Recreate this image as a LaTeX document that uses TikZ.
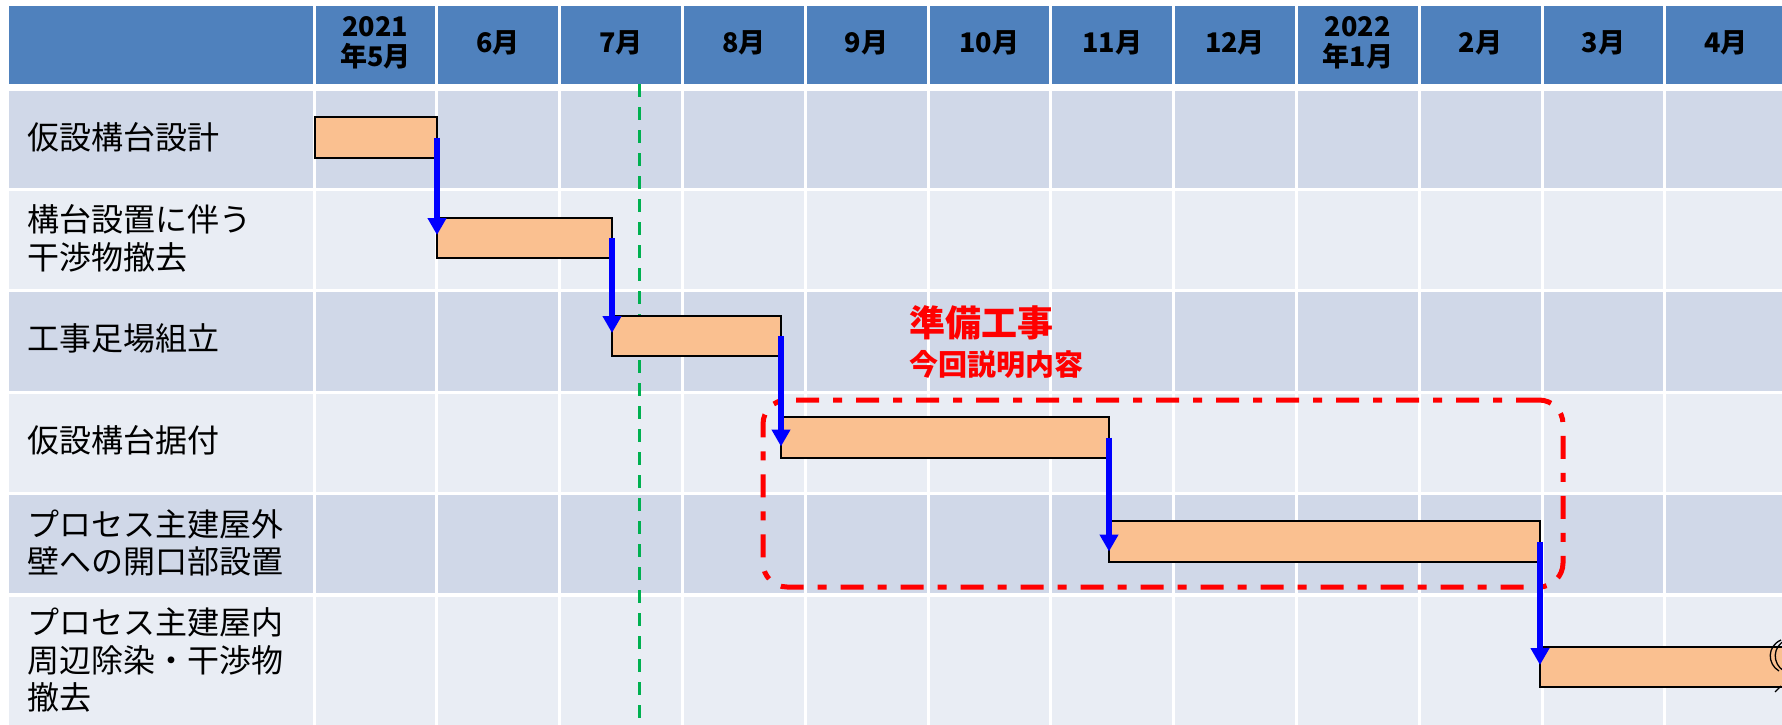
\documentclass[tikz,border=0pt]{standalone}
\usepackage{fontspec}
\setmainfont{Noto Sans CJK JP}
\usetikzlibrary{arrows.meta}
\definecolor{hdr}{HTML}{4F81BD}
\definecolor{banda}{HTML}{D0D8E8}
\definecolor{bandb}{HTML}{E9EDF4}
\definecolor{barfill}{HTML}{FAC090}
\definecolor{grn}{HTML}{00B050}
\tikzset{
  hdrtext/.style={font=\fontsize{27}{30.5}\selectfont\bfseries, align=center, text=black, inner sep=0pt},
  rowlabel/.style={font=\fontsize{32}{37.5}\selectfont, align=left, anchor=west, inner sep=0pt, text=black},
  taskbar/.style={draw=black, line width=1.6pt, fill=barfill, inner sep=0pt, outer sep=0pt, anchor=north west},
  link/.style={draw=blue, line width=5.5pt, -{Triangle[length=17pt,width=18pt]}},
  todayline/.style={draw=grn, line width=3pt, dash pattern=on 13pt off 10pt},
  scopebox/.style={draw=red, line width=5pt, rounded corners=24pt, dash pattern=on 23pt off 14pt on 9pt off 14pt, inner sep=0pt},
  redtitle/.style={text=red, font=\fontsize{36}{40}\selectfont\bfseries, anchor=west, inner sep=0pt},
  redsub/.style={text=red, font=\fontsize{29}{32}\selectfont\bfseries, anchor=west, inner sep=0pt}
}
\begin{document}
\begin{tikzpicture}[x=1pt,y=-1pt]
\useasboundingbox (0,0) rectangle (1782,725);
\clip (0,0) rectangle (1782,725);
\fill[white] (0,0) rectangle (1782,725);
% table bands
\fill[hdr]   (9,6)   rectangle (1782,84);
\fill[banda] (9,91)  rectangle (1782,188);
\fill[bandb] (9,191) rectangle (1782,289);
\fill[banda] (9,292) rectangle (1782,391);
\fill[bandb] (9,394) rectangle (1782,492);
\fill[banda] (9,495) rectangle (1782,593);
\fill[bandb] (9,597) rectangle (1782,725);
\foreach \k in {0,...,11}
  \fill[white] ({314+122.8*\k-1.5},0) rectangle ({314+122.8*\k+1.5},725);
% header texts
\foreach \t [count=\i from 0] in {{2021\\年5月},6月,7月,8月,9月,10月,11月,12月,{2022\\年1月},2月,3月,4月}
  \node[hdrtext] (h\i) at ({314+122.8*(\i+0.5)},43) {\t};
% row labels
\node[rowlabel] (r1) at (27,137) {仮設構台設計};
\node[rowlabel] (r2) at (27,238.5) {構台設置に伴う\\干渉物撤去};
\node[rowlabel] (r3) at (27,338) {工事足場組立};
\node[rowlabel] (r4) at (27,440) {仮設構台据付};
\node[rowlabel] (r5) at (27,543) {プロセス主建屋外\\壁への開口部設置};
\node[rowlabel] (r6) at (27,660) {プロセス主建屋内\\周辺除染・干渉物\\撤去};
% today line
\draw[todayline] (639,84) -- (639,725);
% red scope box and label
\node[scopebox, minimum width=800pt, minimum height=187pt] (scope) at (1163,493.5) {};
\node[redtitle] (t1) at (909,323) {準備工事};
\node[redsub] (t2) at (909,364.5) {今回説明内容};
% bars
\node[taskbar, minimum width=122pt, minimum height=41pt] (b1) at (315,117) {};
\node[taskbar, minimum width=175pt, minimum height=40pt] (b2) at (437,218) {};
\node[taskbar, minimum width=169pt, minimum height=40pt] (b3) at (612,316) {};
\node[taskbar, minimum width=328pt, minimum height=41pt] (b4) at (781,417) {};
\node[taskbar, minimum width=431pt, minimum height=41pt] (b5) at (1109,521) {};
\node[taskbar, minimum width=260pt, minimum height=40pt] (b6) at (1540,647) {};
% break mark
\draw[black, line width=1.3pt] (1781,640) .. controls (1767,646) and (1767,664) .. (1779,671);
\draw[black, line width=1.3pt] (1786,640) .. controls (1772,646) and (1772,664) .. (1784,671);
\draw[black, line width=1.3pt] (1775,692) -- (1781,686);
% links
\draw[link] (b1.east) -- ([yshift=3pt]b2.west);
\draw[link] (b2.east) -- ([yshift=3pt]b3.west);
\draw[link] (b3.east) -- ([yshift=-9pt]b4.west);
\draw[link] (b4.east) -- ([yshift=-10pt]b5.west);
\draw[link] (b5.east) -- ([yshift=2pt]b6.west);
\end{tikzpicture}
\end{document}
